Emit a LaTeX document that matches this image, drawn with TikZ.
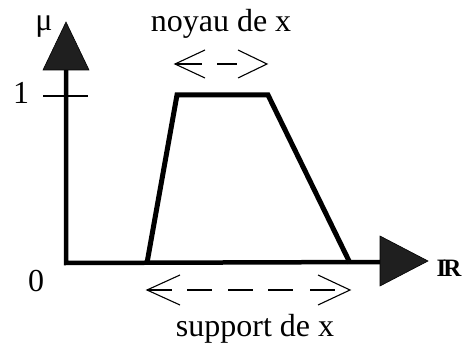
\documentclass[tikz,border=0pt]{standalone}
\usepackage{fontspec}
\setmainfont{Liberation Serif}
\begin{document}
\begin{tikzpicture}[x=1pt,y=-1pt,
  axis/.style={line width=4.5pt},
  curve/.style={line width=5pt,line join=miter},
  bigtip/.style={fill=black!88,draw=black,line width=0.6pt,line join=miter},
  lbl/.style={font=\fontsize{32}{36}\selectfont,inner sep=0pt},
  thin/.style={line width=1.1pt},
]
\useasboundingbox (0,0) rectangle (463,347);
% axes
\coordinate (O) at (66,263);
\coordinate (Ybase) at (66,70);
\coordinate (Xbase) at (380,262);
\draw[axis] (Ybase) -- (O) -- (Xbase);
\fill[bigtip] (43,70) -- (66,22) -- (89,70) -- cycle;
\fill[bigtip] (380,236) -- (428,261) -- (380,286) -- cycle;
% tick at 1
\coordinate (T1) at (43,96);
\coordinate (T2) at (88,96);
\draw[thin] (T1) -- (T2);
% trapezoid
\coordinate (A) at (147,263);
\coordinate (B) at (177,95);
\coordinate (C) at (268,95);
\coordinate (D) at (350,263);
\draw[curve] (A) -- (B) -- (C) -- (D);
% labels
\node[lbl] (mu) at (44,27) {μ};
\node[lbl] (one) at (21,93) {1};
\node[lbl] (zero) at (36,281) {0};
\node[lbl,font=\fontsize{25}{29}\selectfont\bfseries] (R) at (449,268) {I\kern-3pt R};
\node[lbl,anchor=base] (noyau) at (221,32) {noyau de x};
\node[lbl,anchor=base] (support) at (255,336) {support de x};
% noyau arrow
\coordinate (nl) at (175,64);
\coordinate (nr) at (267,64);
\draw[thin] (205,50) -- (nl) -- (205,78);
\draw[thin] (nl) -- (202,64);
\draw[thin] (217,64) -- (237,64);
\draw[thin] (238,50) -- (nr) -- (238,78);
% support arrow
\coordinate (sl) at (147,290);
\coordinate (sr) at (350,290);
\draw[thin] (180,275) -- (sl) -- (180,305);
\draw[thin] (sl) -- (172,290);
\draw[thin] (187,290) -- (212,290);
\draw[thin] (228,290) -- (253,290);
\draw[thin] (268,290) -- (293,290);
\draw[thin] (310,290) -- (335,290);
\draw[thin] (318,275) -- (sr) -- (318,305);
\end{tikzpicture}
\end{document}
